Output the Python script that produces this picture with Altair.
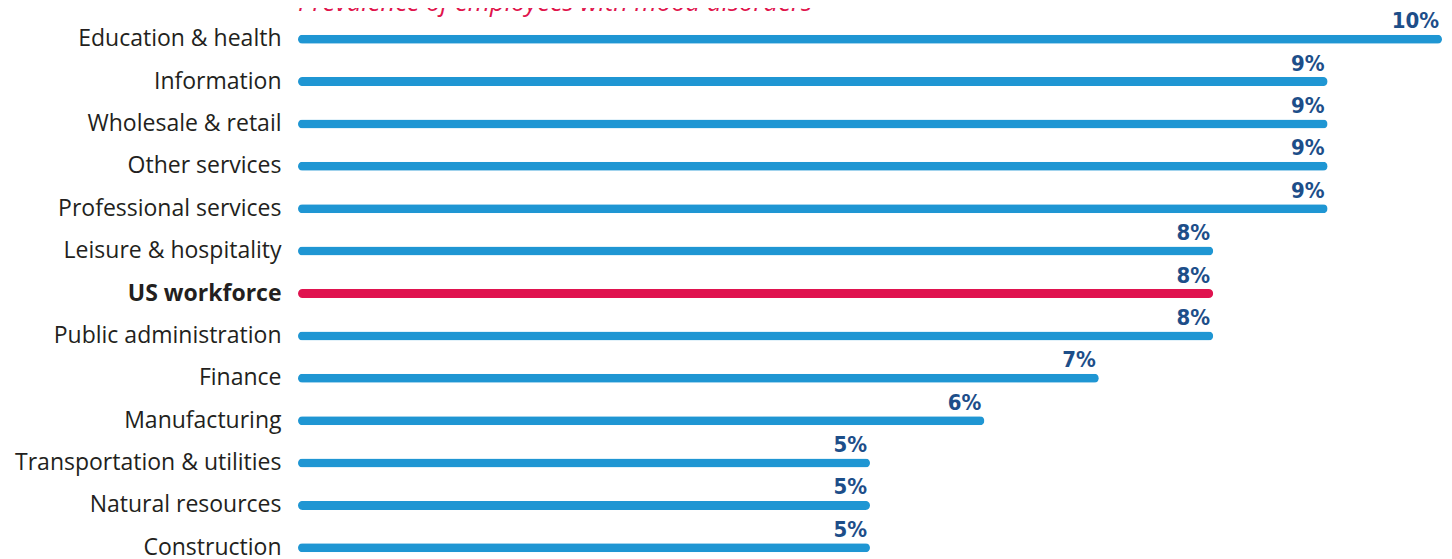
import altair as alt
import pandas as pd

categories = ["Education & health", "Information", "Wholesale & retail", "Other services",
              "Professional services", "Leisure & hospitality", "US workforce",
              "Public administration", "Finance", "Manufacturing",
              "Transportation & utilities", "Natural resources", "Construction"]
values = [10, 9, 9, 9, 9, 8, 8, 8, 7, 6, 5, 5, 5]
labels = ["10%", "9%", "9%", "9%", "9%", "8%", "8%", "8%", "7%", "6%", "5%", "5%", "5%"]
highlight = "US workforce"

df = pd.DataFrame({"category": categories, "value": values, "label": labels})
df["hl"] = df["category"] == highlight

y = alt.Y("category:N", sort=categories,
          scale=alt.Scale(paddingInner=0, paddingOuter=0),
          axis=alt.Axis(title=None, domain=False, ticks=False, grid=False,
                        labelFont="Open Sans", labelFontSize=23, labelColor="#231F20",
                        labelPadding=17, labelLimit=400,
                        labelFontWeight={"expr": "datum.value == 'US workforce' ? 'bold' : 'normal'"}))
x = alt.X("value:Q", scale=alt.Scale(domain=[0, 10], nice=False), axis=None)

bars = alt.Chart(df).mark_bar(height=9, cornerRadius=4.5).encode(
    x=x, y=y,
    color=alt.condition(alt.datum.hl, alt.value("#E0134F"), alt.value("#1F96D3")),
)

text = alt.Chart(df).mark_text(
    align="right", baseline="alphabetic", dx=-3, dy=-11,
    font="'Liberation Sans Narrow', 'DejaVu Sans Condensed', 'Roboto Condensed', sans-serif",
    fontWeight="bold", fontSize=22, color="#1D4E89",
).encode(x=x, y=y, text="label:N")

chart = (bars + text).properties(
    width=1144, height=551,
    title=alt.TitleParams("Prevalence of employees with mood disorders",
                          anchor="start", frame="group", dx=0, offset=-31, baseline="bottom",
                          font="Open Sans", fontSize=25.5, fontStyle="italic",
                          fontWeight="normal", color="#E0144C"),
    padding={"left": 290, "top": 10, "right": 0, "bottom": 0},
    autosize=alt.AutoSizeParams(type="none"),
).configure_view(stroke=None)

chart.save("out.html", embed_options={"renderer": "svg", "actions": False})
